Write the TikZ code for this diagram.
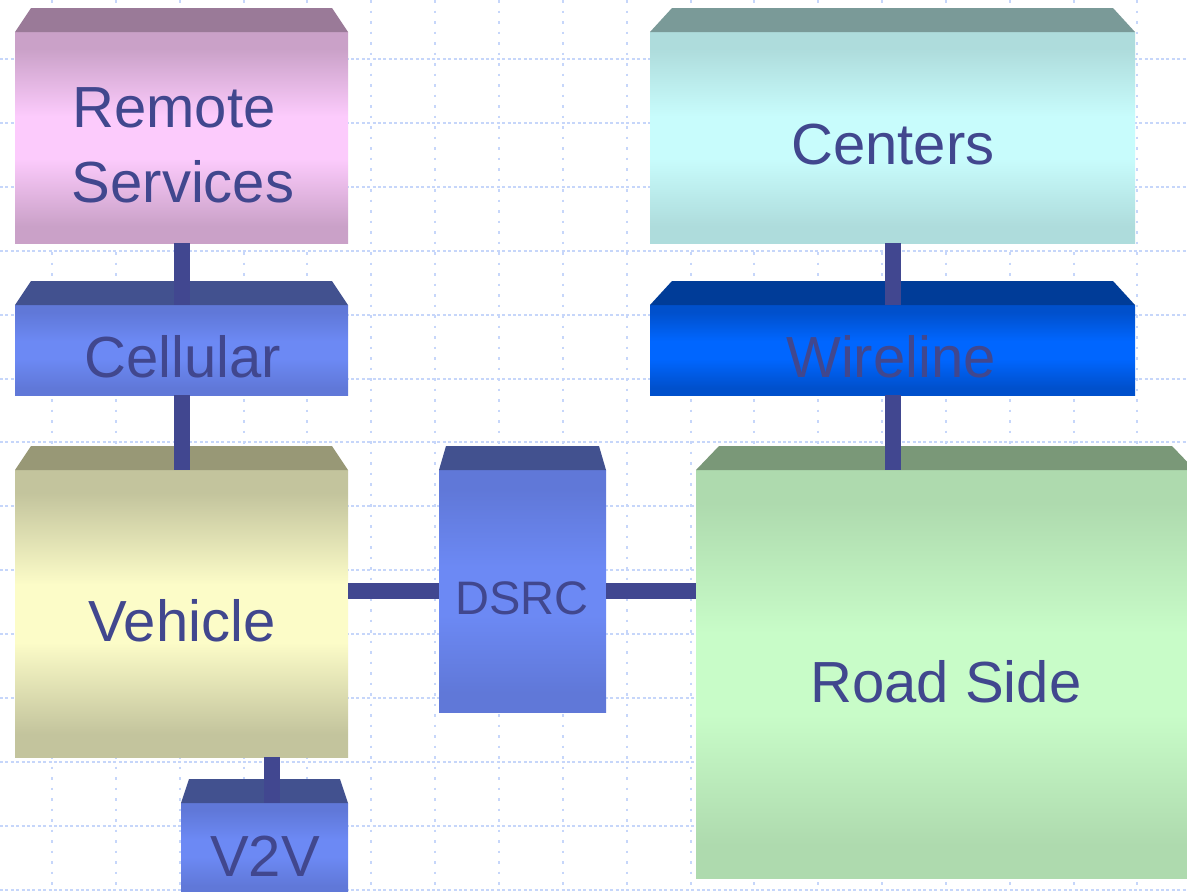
\documentclass[tikz,border=0pt]{standalone}
\usepackage{fontspec}
\setmainfont{Liberation Sans}
\usetikzlibrary{calc}

% front-face fill: darker bands at top and bottom, light band in the middle
\pgfdeclareverticalshading[boxedge,boxmid]{boxshade}{100bp}{%
  color(0bp)=(boxedge); color(29bp)=(boxedge); color(45bp)=(boxmid);
  color(55bp)=(boxmid); color(71bp)=(boxedge); color(100bp)=(boxedge)}

\definecolor{gridblue}{HTML}{C6D6FA}
\definecolor{linkblue}{HTML}{414790}
\definecolor{textblue}{HTML}{41478E}

\definecolor{rsTop}{HTML}{9A7A98}\definecolor{rsEdge}{HTML}{CAA1C8}\definecolor{rsMid}{HTML}{FCCBFC}
\definecolor{blTop}{HTML}{42518F}\definecolor{blEdge}{HTML}{6078D8}\definecolor{blMid}{HTML}{6C89F4}
\definecolor{vhTop}{HTML}{989876}\definecolor{vhEdge}{HTML}{C3C49D}\definecolor{vhMid}{HTML}{FCFCC8}
\definecolor{ceTop}{HTML}{7A9A98}\definecolor{ceEdge}{HTML}{AEDCDC}\definecolor{ceMid}{HTML}{C8FCFC}
\definecolor{wlTop}{HTML}{003C98}\definecolor{wlEdge}{HTML}{0050CC}\definecolor{wlMid}{HTML}{0066FF}
\definecolor{rdTop}{HTML}{7A9878}\definecolor{rdEdge}{HTML}{AEDAAE}\definecolor{rdMid}{HTML}{C8FCC8}

\tikzset{
  hgrid/.style={gridblue, line width=2pt, dash pattern=on 3pt off 2.4pt},
  vgrid/.style={gridblue, line width=2pt, dash pattern=on 2.5pt off 8pt},
  blockface/.style n args={4}{rectangle, draw=none, inner sep=0pt, outer sep=0pt,
    anchor=north west, minimum width=#1pt, minimum height=#2pt,
    /utils/exec={\colorlet{boxedge}{#3}\colorlet{boxmid}{#4}}, shading=boxshade},
  link/.style={linkblue, line width=16pt, line cap=butt},
  lbl/.style={textblue, font=\fontsize{58}{60}\selectfont, inner sep=0pt, anchor=base},
  smalllbl/.style={textblue, font=\fontsize{47}{49}\selectfont, inner sep=0pt, anchor=base},
}

% slanted top face above a block: #1 node, #2 inset of the back edge, #3 colour
\newcommand\blocktop[3]{%
  \fill[#3] (#1.north west) -- ([xshift=#2pt,yshift=24pt]#1.north west)
    -- ([xshift=-#2pt,yshift=24pt]#1.north east) -- (#1.north east) -- cycle;}

\begin{document}
\begin{tikzpicture}[x=1pt,y=-1pt]
\useasboundingbox (0,0) rectangle (1187,892);
\clip (0,0) rectangle (1187,892);
\fill[white] (0,0) rectangle (1187,892);

% dotted background grid
\foreach \k in {0,...,13}{\draw[hgrid] (0,{59+63.9*\k}) -- (1187,{59+63.9*\k});}
\foreach \k in {0,...,17}{\draw[vgrid] ({52+63.85*\k},0) -- ({52+63.85*\k},892);}

% blocks
\node[blockface={333}{211}{rsEdge}{rsMid}] (remote) at (15,32) {};
\blocktop{remote}{16}{rsTop}
\node[blockface={333}{90}{blEdge}{blMid}] (cellular) at (15,305) {};
\blocktop{cellular}{16}{blTop}
\node[blockface={333}{287}{vhEdge}{vhMid}] (vehicle) at (15,470) {};
\blocktop{vehicle}{16}{vhTop}
\node[blockface={167}{90}{blEdge}{blMid}] (v2v) at (181,803) {};
\blocktop{v2v}{8}{blTop}
\node[blockface={167}{242}{blEdge}{blMid}] (dsrc) at (439,470) {};
\blocktop{dsrc}{7}{blTop}
\node[blockface={485}{211}{ceEdge}{ceMid}] (centers) at (650,32) {};
\blocktop{centers}{22}{ceTop}
\node[blockface={485}{90}{wlEdge}{wlMid}] (wireline) at (650,305) {};
\blocktop{wireline}{22}{wlTop}
\node[blockface={499}{408}{rdEdge}{rdMid}] (roadside) at (696,470) {};
\blocktop{roadside}{23}{rdTop}

% links
\coordinate (v2vtap) at (272,0);
\draw[link] (remote.south) -- (cellular.north);
\draw[link] (cellular.south) -- (vehicle.north);
\draw[link] (vehicle.south -| v2vtap) -- (v2v.north -| v2vtap);
\draw[link] (vehicle.east |- dsrc.west) -- (dsrc.west);
\draw[link] (dsrc.east) -- (roadside.west |- dsrc.east);
\draw[link] (centers.south) -- (wireline.north);
\draw[link] (wireline.south) -- (roadside.north -| wireline.south);

% labels
\node[lbl] (lremote) at (174,127) {Remote};
\node[lbl] (lservices) at (183,202) {Services};
\node[lbl] (lcellular) at (183,377) {Cellular};
\node[lbl] (lvehicle) at (182,641) {Vehicle};
\node[lbl] (lv2v) at (265,876) {V2V};
\node[smalllbl] (ldsrc) at (522,614) {DSRC};
\node[lbl] (lcenters) at (893,164) {Centers};
\node[lbl] (lwireline) at (891,377) {Wireline};
\node[lbl] (lroadside) at (946,702) {Road Side};
\end{tikzpicture}
\end{document}
